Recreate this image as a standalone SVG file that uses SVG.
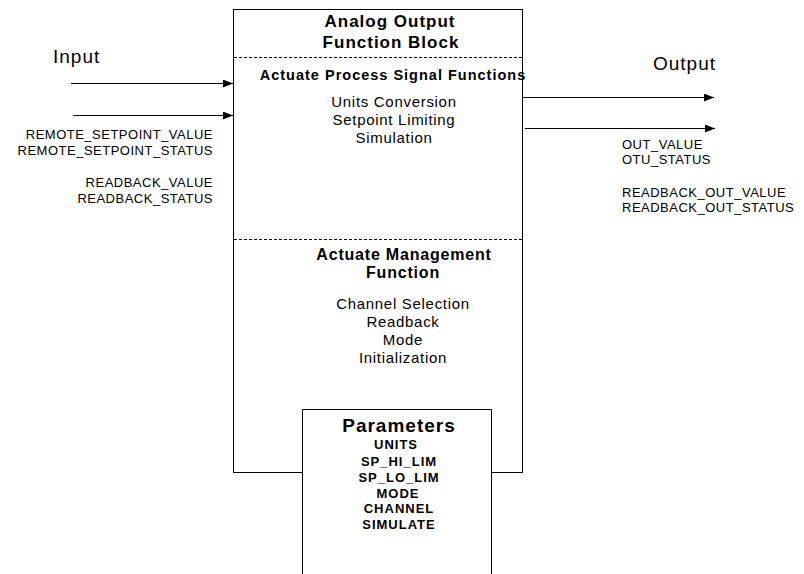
<svg xmlns="http://www.w3.org/2000/svg" width="804" height="574" viewBox="0 0 804 574">
<style>
text{font-family:"Liberation Sans",Arial,sans-serif;fill:#000}
.box{fill:#fff;stroke:#000;stroke-width:1}
.dash{stroke:#000;stroke-width:1;stroke-dasharray:3,2}
.line{stroke:#000;stroke-width:1;fill:none;marker-end:url(#ah)}
.lbl{font-size:13px;letter-spacing:0.5px}
.big{font-size:19px;letter-spacing:1px}
.title{font-size:17px;font-weight:bold;letter-spacing:1px}
.sub{font-size:14.5px;font-weight:bold;letter-spacing:1px}
.sub2{font-size:16px;font-weight:bold;letter-spacing:0.8px}
.body{font-size:15px;letter-spacing:0.7px}
.ptitle{font-size:19px;font-weight:bold;letter-spacing:1px}
.param{font-size:13px;font-weight:bold;letter-spacing:1px}
.m{text-anchor:middle}
.r{text-anchor:end}
</style>
<defs>
<marker id="ah" markerWidth="10" markerHeight="8" refX="10" refY="4" orient="auto" markerUnits="userSpaceOnUse">
<path d="M0,0 L10,4 L0,8 Z" fill="#000"/>
</marker>
</defs>
<rect width="804" height="574" fill="#fff"/>
<g id="ao-block">
<rect class="box" x="233.5" y="9.5" width="289" height="463"/>
<line class="dash" x1="234" y1="57.5" x2="522" y2="57.5"/>
<line class="dash" x1="234" y1="239.5" x2="522" y2="239.5"/>
<text class="m title" x="390" y="27">Analog Output</text>
<text class="m title" x="391" y="48">Function Block</text>
<text class="m sub" x="393" y="80">Actuate Process Signal Functions</text>
<text class="m body" x="394" y="107">Units Conversion</text>
<text class="m body" x="394" y="125">Setpoint Limiting</text>
<text class="m body" x="394" y="143">Simulation</text>
<text class="m sub2" x="404" y="260">Actuate Management</text>
<text class="m sub2" x="403" y="278">Function</text>
<text class="m body" x="403" y="309">Channel Selection</text>
<text class="m body" x="403" y="327">Readback</text>
<text class="m body" x="403" y="345">Mode</text>
<text class="m body" x="403" y="363">Initialization</text>
</g>
<g id="parameters">
<path class="box" d="M302.5,580 V409.5 H491.5 V580"/>
<text class="m ptitle" x="399" y="432">Parameters</text>
<text class="m param" x="396" y="449">UNITS</text>
<text class="m param" x="399" y="466">SP_HI_LIM</text>
<text class="m param" x="399" y="482">SP_LO_LIM</text>
<text class="m param" x="398" y="498">MODE</text>
<text class="m param" x="399" y="513">CHANNEL</text>
<text class="m param" x="399" y="529">SIMULATE</text>
</g>
<g id="input">
<text class="big" x="53" y="63">Input</text>
<text class="lbl r" x="213" y="139">REMOTE_SETPOINT_VALUE</text>
<text class="lbl r" x="213" y="155">REMOTE_SETPOINT_STATUS</text>
<text class="lbl r" x="213" y="187">READBACK_VALUE</text>
<text class="lbl r" x="213" y="203">READBACK_STATUS</text>
</g>
<g id="output">
<text class="big" x="653" y="70">Output</text>
<text class="lbl" x="622" y="149">OUT_VALUE</text>
<text class="lbl" x="622" y="164">OTU_STATUS</text>
<text class="lbl" x="622" y="197">READBACK_OUT_VALUE</text>
<text class="lbl" x="622" y="212">READBACK_OUT_STATUS</text>
</g>
<g id="connectors">
<line class="line" x1="71" y1="83.5" x2="233" y2="83.5"/>
<line class="line" x1="73" y1="115.5" x2="233" y2="115.5"/>
<line class="line" x1="523" y1="97.5" x2="714" y2="97.5"/>
<line class="line" x1="525" y1="128.5" x2="715" y2="128.5"/>
</g>
</svg>
